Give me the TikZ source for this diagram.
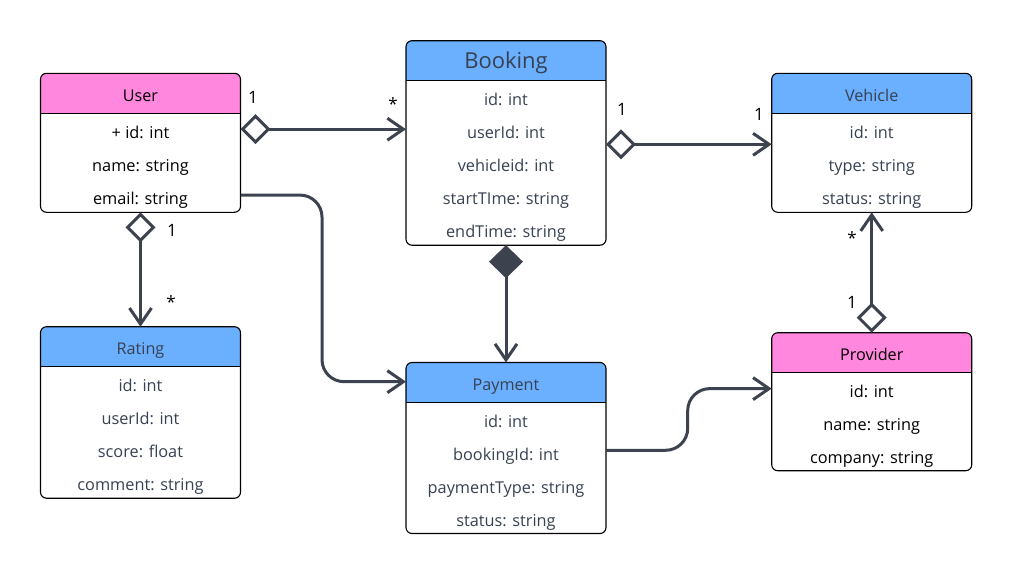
\documentclass[tikz,border=0pt]{standalone}
\usepackage{fontspec}
\setmainfont{Open Sans}
\usetikzlibrary{arrows.meta,calc}
\definecolor{hdpink}{HTML}{FF87DD}
\definecolor{hdblue}{HTML}{6BAFFF}
\definecolor{ink}{HTML}{374151}
\definecolor{conncol}{HTML}{3D434E}
\tikzset{
  x=1pt, y=-1pt,
  anchorbox/.style={rectangle, inner sep=0pt, outer sep=0pt, minimum width=200pt},
  classborder/.style={draw=black, line width=1.1pt, rounded corners=6pt},
  sepline/.style={draw=black, line width=1.3pt},
  titletext/.style={inner sep=0pt, anchor=base, font=\fontsize{16.2}{19}\selectfont},
  bigtitle/.style={inner sep=0pt, anchor=base, font=\fontsize{22}{26}\selectfont},
  rowtext/.style={inner sep=0pt, anchor=base, font=\fontsize{16.3}{19}\selectfont},
  mult/.style={inner sep=0pt, font=\fontsize{17}{20}\selectfont, text=black},
  conn/.style={draw=conncol, line width=3pt},
  openhead/.style={-{Straight Barb[length=16pt,width=22pt,line width=3pt]}},
  aggr/.style={{Diamond[open,length=30pt,width=30pt,line width=3pt]}-{Straight Barb[length=16pt,width=22pt,line width=3pt]}},
  compo/.style={{Diamond[length=33pt,width=34pt]}-{Straight Barb[length=16pt,width=22pt,line width=3pt]}},
}
% #1 name, #2 left x, #3 top y, #4 height, #5 header colour, #6 text colour, #7 title style, #8 title, #9 rows
\newcommand\umlclass[9]{%
  \node[anchorbox, minimum height=#4pt, anchor=north west] (#1) at (#2,#3) {};
  \begin{scope}
    \clip[rounded corners=6pt] (#1.north west) rectangle (#1.south east);
    \fill[#5] (#1.north west) rectangle ([yshift=-40pt]#1.north east);
  \end{scope}
  \draw[sepline] ([yshift=-40pt]#1.north west) -- ([yshift=-40pt]#1.north east);
  \draw[classborder] (#1.north west) rectangle (#1.south east);
  \node[#7, text=#6] (#1-title) at ([yshift=-28pt]#1.north) {#8};
  \foreach \t [count=\i] in {#9}
    \node[rowtext, text=#6] (#1-r\i) at ([yshift={-65pt-(\i-1)*33pt}]#1.north) {\t};
}
\begin{document}
\begin{tikzpicture}
\useasboundingbox (0,0) rectangle (1011,574);
\fill[white] (0,0) rectangle (1011,574);

\umlclass{user}{40.5}{73.3}{139}{hdpink}{black}{titletext}{User}{+ id: int,name: string,email: string}
\umlclass{booking}{406}{40.7}{204.5}{hdblue}{ink}{bigtitle}{Booking}{id: int,userId: int,vehicleid: int,startTIme: string,endTime: string}
\umlclass{vehicle}{771.7}{73.3}{139}{hdblue}{ink}{titletext}{Vehicle}{id: int,type: string,status: string}
\umlclass{rating}{40.5}{326.7}{171.5}{hdblue}{ink}{titletext}{Rating}{id: int,userId: int,score: float,comment: string}
\umlclass{payment}{406}{362.5}{171}{hdblue}{ink}{titletext}{Payment}{id: int,bookingId: int,paymentType: string,status: string}
\umlclass{provider}{771.7}{332.7}{138}{hdpink}{black}{titletext}{Provider}{id: int,name: string,company: string}

% connectors
\draw[conn, aggr] ($(user.east |- user-r1)+(0,-3)$) -- ($(booking.west |- user-r1)+(0,-3)$);
\draw[conn, aggr] ($(booking.east |- vehicle.west)+(0,1.5)$) -- ($(vehicle.west)+(0,1.5)$);
\draw[conn, aggr] (user.south) -- (rating.north);
\draw[conn, compo] (booking.south) -- (payment.north);
\draw[conn, aggr] (provider.north) -- (vehicle.south);
\draw[conn, openhead, rounded corners=22pt] ($(user.east |- user-r3)+(0,-5)$) -| ($(payment.west |- payment-title)+(-84,-5)$) -- ($(payment.west |- payment-title)+(0,-5)$);
\draw[conn, openhead, rounded corners=22pt] ($(payment.east |- payment-r2)+(0,-6)$) -| ($(provider.west |- provider-r1)+(-84,-3)$) -- ($(provider.west |- provider-r1)+(0,-3)$);

% multiplicities
\node[mult] (m1) at (253,97.5) {1};
\node[mult] (m2) at (393,104) {*};
\node[mult] (m3) at (622,109) {1};
\node[mult] (m4) at (759,114.5) {1};
\node[mult] (m5) at (172,230) {1};
\node[mult] (m6) at (171,302) {*};
\node[mult] (m7) at (852,238) {*};
\node[mult] (m8) at (852,302.5) {1};
\end{tikzpicture}
\end{document}
